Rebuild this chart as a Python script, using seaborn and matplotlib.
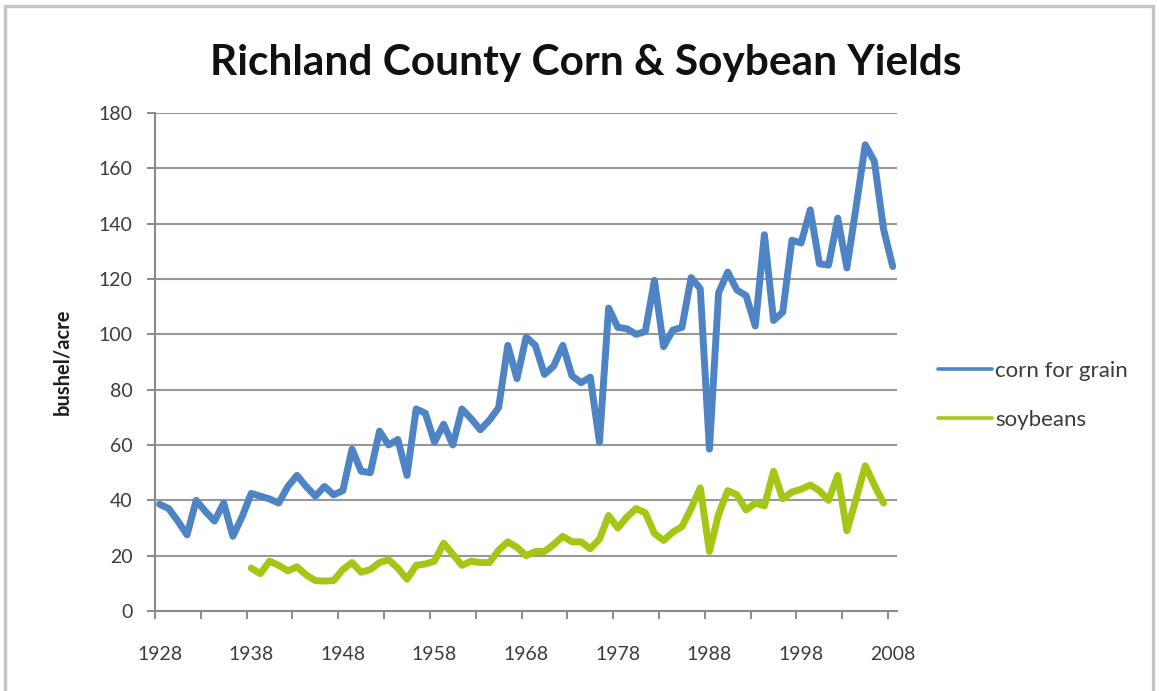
import numpy as np
import pandas as pd
import matplotlib
matplotlib.use("Agg")
import matplotlib.pyplot as plt
from matplotlib.patches import Rectangle
from matplotlib.lines import Line2D
import seaborn as sns

# Richland County yields, bushels per acre
corn_years = list(range(1928, 2009))
corn_yield = [
    38.6, 37, 32.5, 27.5, 40, 36, 32.5, 39, 27, 34,          # 1928-1937
    42.5, 41.5, 40.5, 39, 45, 49, 45, 41.5, 45, 42,          # 1938-1947
    43.5, 58.5, 50.5, 50, 65, 60, 62, 49, 73, 71.5,          # 1948-1957
    61, 67.5, 60, 73, 69.5, 65.5, 69, 73.5, 96, 84,          # 1958-1967
    99, 96, 85.5, 88.5, 96, 85, 82.5, 84.5, 61, 109.5,       # 1968-1977
    102.5, 102, 100, 101, 119.5, 95.5, 101.5, 102.5, 120.5, 116.5,  # 1978-1987
    58.5, 115, 122.5, 116, 114, 103, 136, 105, 108, 134,     # 1988-1997
    133, 145, 125.5, 125, 142, 124, 146, 168.5, 162.5, 138,  # 1998-2007
    124.5,                                                   # 2008
]

soy_years = list(range(1938, 2008))
soy_yield = [
    15.5, 13.5, 18, 16.5, 14.5, 16, 13, 11, 10.8, 11,        # 1938-1947
    15, 17.5, 14, 15, 17.5, 18.5, 15.5, 11.5, 16.5, 17,      # 1948-1957
    18, 24.5, 20.5, 16.5, 18, 17.5, 17.5, 22, 25, 23,        # 1958-1967
    20, 21.5, 21.5, 24, 27, 25, 25, 22.5, 26, 34.5,          # 1968-1977
    30, 34, 37, 35.5, 28, 25.5, 28.5, 30.5, 37, 44.5,        # 1978-1987
    21.5, 35, 43.5, 42, 36.5, 39, 38, 50.5, 40.5, 43,        # 1988-1997
    44, 45.5, 43.5, 40, 49, 29, 40.5, 52.5, 45.5, 39,        # 1998-2007
]

series_names = ["corn for grain", "soybeans"]
series_colors = ["#4f84c4", "#a4c715"]
y_ticks = list(range(0, 181, 20))
x_label_years = list(range(1928, 2009, 10))

df = pd.concat([
    pd.DataFrame({"year": corn_years, "yield": corn_yield, "crop": series_names[0]}),
    pd.DataFrame({"year": soy_years, "yield": soy_yield, "crop": series_names[1]}),
], ignore_index=True)

sns.set_theme(style="white")
plt.rcParams["font.family"] = ["Lato", "DejaVu Sans"]

fig = plt.figure(figsize=(11.59, 6.91), dpi=100)
fig.patch.set_facecolor("white")

# light frame around the whole chart
fig.patches.append(Rectangle((0.004, -0.02), 0.991, 1.012, transform=fig.transFigure,
                             fill=False, edgecolor="#c4c4c4", linewidth=2.4))

ax = fig.add_axes([0.1337, 0.1158, 0.6405, 0.7207])

sns.lineplot(data=df, x="year", y="yield", hue="crop", hue_order=series_names,
             palette=dict(zip(series_names, series_colors)), linewidth=5.0,
             ax=ax, legend=False, solid_joinstyle="round", solid_capstyle="round")

ax.set_xlim(1927.5, 2008.5)
ax.set_ylim(0, 180)

# horizontal gridlines
for v in y_ticks[1:]:
    ax.axhline(v, color="#989898", linewidth=1.5, zorder=0)

for side in ["top", "right"]:
    ax.spines[side].set_visible(False)
for side in ["left", "bottom"]:
    ax.spines[side].set_color("#8a8a8a")
    ax.spines[side].set_linewidth(1.5)

tick_color = "#3c3c3c"
ax.set_yticks(y_ticks)
ax.set_yticklabels([str(v) for v in y_ticks])
ax.tick_params(axis="y", direction="out", length=6, width=1.4, color="#8a8a8a",
               labelsize=14, labelcolor=tick_color, pad=10, left=True)

# year labels at category centres, tick marks between every 5 categories
ax.set_xticks(x_label_years)
ax.set_xticklabels([str(v) for v in x_label_years])
ax.set_xticks(np.arange(1927.5, 2008.5, 5), minor=True)
ax.tick_params(axis="x", which="major", length=0, labelsize=14,
               labelcolor=tick_color, pad=25)
ax.tick_params(axis="x", which="minor", direction="out", length=6, width=1.4,
               color="#8a8a8a", bottom=True)

ax.set_xlabel("")
ax.set_ylabel("bushel/acre", fontsize=14.5, fontweight="bold", color="#1e1e1e")
ax.yaxis.label.set_va("center")
ax.yaxis.set_label_coords(-0.125, 0.5)

fig.text(0.505, 0.909, "Richland County Corn & Soybean Yields",
         ha="center", va="center", fontsize=30.5, fontweight="bold", color="#111111")

handles = [Line2D([0], [0], color=c, linewidth=2.6) for c in series_colors]
leg = fig.legend(handles, series_names, loc="center left",
                 bbox_to_anchor=(0.792, 0.428), frameon=False,
                 fontsize=16, handlelength=2.45, handletextpad=0.12,
                 labelspacing=1.3)
for t in leg.get_texts():
    t.set_color("#3c3c3c")

fig.savefig("out.png", dpi=100, facecolor="white")
